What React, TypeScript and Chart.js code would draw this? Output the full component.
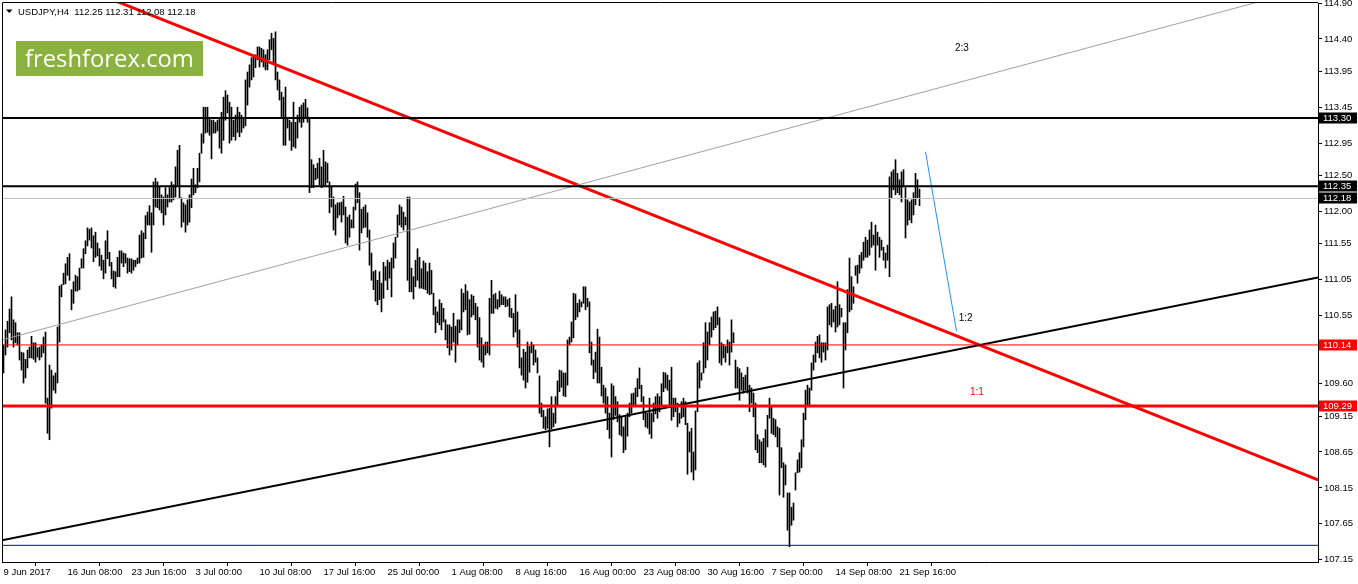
import React, { useEffect, useRef } from "react";
import { Chart, registerables } from "chart.js";

Chart.register(...registerables);

const SYMBOL_TITLE = "USDJPY,H4  112.25 112.31 112.08 112.18";
const WATERMARK = "freshforex.com";

// H4 bars, high / low per bar (index 0 = 9 Jun 2017 00:00)
const HIGHS: number[] = [
  110.14,110.35,110.47,110.64,110.81,110.49,110.45,110.31,110.31,110.04,
  110.03,109.94,110.07,110.11,110.26,110.17,110.17,110.10,110.11,110.14,
  110.25,110.32,109.40,109.86,109.79,109.71,109.75,110.39,110.96,110.98,
  111.14,111.27,111.36,111.41,110.91,111.02,111.11,111.09,111.21,111.34,
  111.48,111.59,111.77,111.75,111.77,111.66,111.71,111.56,111.48,111.39,
  111.32,111.59,111.73,111.43,111.29,111.17,111.16,111.36,111.45,111.45,
  111.42,111.41,111.35,111.34,111.34,111.32,111.32,111.35,111.67,111.73,
  111.70,111.94,111.99,112.08,
  111.98,112.41,112.46,112.41,112.34,112.23,112.20,112.33,112.23,112.33,
  112.41,112.37,112.62,112.85,112.92,112.19,112.12,112.09,112.16,112.23,
  112.45,112.60,112.37,112.60,112.81,113.08,113.45,113.45,113.45,113.30,
  113.27,113.27,113.24,113.27,113.30,113.38,113.59,113.68,113.62,113.52,
  113.45,113.27,113.34,113.45,113.38,113.34,113.30,113.83,113.94,114.04,
  114.14,114.15,114.18,114.29,114.29,114.27,114.25,114.18,114.25,114.39,
  114.48,114.41,114.50,113.94,113.83,113.66,113.59,113.73,113.31,113.27,
  113.24,113.52,113.24,113.34,113.45,
  113.48,113.51,113.56,113.44,113.31,112.72,112.65,112.60,112.67,112.74,
  112.62,112.85,112.69,112.67,112.41,112.34,112.20,112.09,112.12,112.12,
  112.13,112.21,112.06,111.92,111.95,111.88,112.06,112.38,112.41,112.26,
  112.03,112.06,112.09,111.98,111.74,111.42,111.16,111.18,111.04,111.16,
  111.00,111.29,111.23,111.32,111.29,111.35,111.56,111.64,111.95,112.09,
  112.06,111.99,111.92,112.20,112.20,111.21,111.09,111.32,111.48,111.36,
  111.20,111.31,111.28,111.16,111.28,111.18,110.86,110.67,110.60,110.77,
  110.72,110.65,110.49,110.42,110.42,
  110.39,110.58,110.40,110.49,110.49,110.92,110.86,110.98,110.89,110.77,
  110.84,110.82,110.72,110.67,110.52,110.24,110.14,110.18,110.18,110.79,
  111.04,110.84,110.86,110.77,110.89,110.84,110.81,110.81,110.77,110.79,
  110.65,110.58,110.84,110.60,110.35,109.96,110.08,110.04,110.18,110.12,
  110.18,110.14,110.07,109.96,109.71,109.33,109.23,109.14,109.25,109.26,
  109.42,109.19,109.42,109.64,109.79,109.78,109.75,109.75,110.21,110.25,
  110.46,110.86,110.85,110.72,110.77,110.74,110.95,110.95,110.79,110.74,
  110.18,109.93,110.04,110.36,110.25,
  109.83,109.58,109.54,109.42,109.19,109.60,109.57,109.42,109.35,109.17,
  109.14,109.00,109.14,109.19,109.33,109.46,109.47,109.54,109.67,109.82,
  109.58,109.42,109.21,109.19,109.40,109.19,109.33,109.42,109.46,109.42,
  109.60,109.76,109.75,109.72,109.65,109.83,109.40,109.40,109.33,109.19,
  109.35,109.40,109.35,109.05,108.93,108.98,108.65,109.22,109.89,109.92,
  109.75,110.17,110.45,110.32,110.45,110.53,110.60,110.61,110.67,110.52,
  110.17,110.15,110.12,110.21,110.18,110.49,110.31,109.93,109.83,109.81,
  109.75,109.69,109.72,109.83,109.58,
  109.54,109.47,109.33,108.89,108.82,108.79,108.84,108.96,109.16,109.40,
  109.28,109.12,109.10,109.00,108.98,108.71,108.50,108.47,108.08,108.08,
  107.88,107.94,
  108.36,108.54,108.64,108.82,109.19,109.51,109.58,109.54,109.89,110.00,
  110.18,110.26,110.28,110.17,110.17,110.17,110.67,110.70,110.72,110.63,
  110.68,111.02,110.70,110.65,110.45,110.45,110.91,111.35,111.09,110.95,
  111.24,111.25,111.39,111.43,111.57,111.64,111.60,111.74,111.85,111.67,
  111.81,111.71,111.64,111.60,111.50,111.42,111.53,112.48,
  112.55,112.58,112.72,112.53,112.44,112.55,112.58,112.33,112.16,112.13,
  112.16,112.26,112.53,112.44,112.31,
];

const LOWS: number[] = [
  109.75,110.00,110.11,110.31,110.21,110.11,110.17,110.14,109.93,109.79,
  109.61,109.68,109.82,109.96,109.96,109.94,109.90,109.97,109.93,109.97,
  110.03,109.33,108.91,108.82,109.26,109.51,109.47,109.61,110.18,110.81,
  110.98,110.99,111.11,111.04,110.63,110.72,110.89,110.89,110.91,111.21,
  111.21,111.41,111.52,111.60,111.49,111.30,111.36,111.38,111.24,111.18,
  111.06,111.14,111.34,111.24,111.06,110.95,110.93,111.09,111.09,111.28,
  111.23,111.28,111.14,111.16,111.14,111.18,111.23,111.27,111.28,111.35,
  111.36,111.62,111.81,111.81,
  111.43,111.81,112.06,112.05,112.02,111.98,111.81,111.95,112.06,112.13,
  112.13,112.16,112.20,112.35,112.19,111.78,111.85,111.71,111.81,111.85,
  112.05,112.23,112.26,112.33,112.41,112.81,112.95,113.09,113.10,113.06,
  112.73,113.09,113.09,113.12,112.88,112.81,112.99,113.27,113.37,112.95,
  112.99,113.04,112.99,113.10,113.04,113.10,113.16,113.19,113.48,113.73,
  113.83,113.87,114.00,114.11,114.01,114.08,114.01,113.97,113.97,114.11,
  114.25,114.07,113.83,113.69,113.55,113.31,112.92,112.92,113.16,112.99,
  112.85,112.90,112.88,113.02,113.24,
  113.17,113.24,113.31,113.24,112.26,112.33,112.33,112.44,112.46,112.37,
  112.33,112.34,112.37,112.40,111.98,112.06,111.74,111.67,111.91,111.95,
  111.85,111.95,111.56,111.53,111.64,111.77,111.77,112.02,112.12,111.46,
  111.70,111.77,111.78,111.64,111.25,111.04,110.91,110.75,110.70,110.77,
  110.60,110.79,111.04,110.91,111.07,110.81,111.21,111.35,111.64,111.81,
  111.78,111.74,111.81,111.04,110.88,110.88,110.78,110.95,111.04,110.93,
  110.93,110.92,110.91,110.86,110.84,110.85,110.56,110.31,110.45,110.42,
  110.35,110.46,110.21,110.10,110.00,
  110.07,110.18,109.90,110.14,110.31,110.35,110.60,110.63,110.28,110.29,
  110.53,110.56,110.49,110.11,109.93,109.90,109.83,110.00,110.03,110.00,
  110.58,110.58,110.65,110.64,110.67,110.70,110.70,110.67,110.68,110.53,
  110.52,110.25,110.32,110.11,109.82,109.72,109.65,109.54,109.62,109.76,
  110.03,109.86,109.90,109.75,109.19,109.14,108.98,108.96,108.98,108.72,
  108.97,109.00,109.05,109.30,109.49,109.55,109.43,109.42,109.58,110.14,
  110.18,110.24,110.49,110.53,110.60,110.67,110.72,110.63,110.67,110.03,
  109.86,109.67,109.76,109.61,109.61,
  109.43,109.33,109.19,108.96,108.84,108.58,109.10,109.16,109.07,108.89,
  108.87,108.64,108.68,108.87,109.14,109.19,109.28,109.28,109.42,109.53,
  109.35,109.10,109.00,108.98,108.90,108.84,109.07,109.18,109.12,109.21,
  109.30,109.49,109.54,109.51,109.30,109.09,109.14,109.21,109.00,109.05,
  109.12,109.14,109.03,108.34,108.65,108.37,108.26,108.40,109.21,109.54,
  109.65,109.75,109.82,109.93,110.14,110.25,110.35,110.38,110.42,109.89,
  109.86,109.96,109.90,110.03,109.86,110.04,110.17,109.54,109.54,109.37,
  109.51,109.47,109.51,109.47,109.21,
  109.33,109.14,108.68,108.64,108.50,108.50,108.47,108.44,108.72,109.12,
  108.91,108.89,108.86,108.72,108.05,108.43,108.02,108.19,107.56,107.33,
  107.63,107.70,
  108.12,108.36,108.37,108.43,108.72,109.10,109.28,109.28,109.51,109.79,
  109.90,110.03,109.96,109.90,110.04,109.93,110.07,110.42,110.39,110.46,
  110.32,110.39,110.42,110.53,109.54,110.07,110.31,110.60,110.63,110.72,
  111.11,111.00,111.14,111.21,111.32,111.36,111.36,111.39,111.50,111.53,
  111.18,111.53,111.36,111.46,111.32,111.21,111.32,111.09,
  112.19,112.30,112.23,112.26,112.23,112.13,112.34,111.63,111.81,111.88,
  111.84,111.95,112.09,112.19,112.08,
];

const X_TICK_INDEX = [0, 32, 64, 96, 128, 160, 192, 224, 256, 288, 320, 352, 384, 416, 448];
const X_TICK_LABELS = [
  "9 Jun 2017", "16 Jun 08:00", "23 Jun 16:00", "3 Jul 00:00", "10 Jul 08:00",
  "17 Jul 16:00", "25 Jul 00:00", "1 Aug 08:00", "8 Aug 16:00", "16 Aug 00:00",
  "23 Aug 08:00", "30 Aug 16:00", "7 Sep 00:00", "14 Sep 08:00", "21 Sep 16:00",
];
const Y_TICKS = [
  114.90, 114.40, 113.95, 113.45, 112.95, 112.50, 112.00, 111.55, 111.05,
  110.55, 110.10, 109.60, 109.15, 108.65, 108.15, 107.65, 107.15,
];

// horizontal levels
const LEVEL_PRICES = [113.30, 112.35, 112.18, 110.14, 109.29, 107.35];
const LEVEL_TAGGED = [true, true, true, true, true, false];

// trend lines (bar index, price)
const RED_TREND_X = [-0.75, 657.25];
const RED_TREND_Y = [115.56, 108.26];
const BLACK_TREND_X = [-0.75, 657.25];
const BLACK_TREND_Y = [107.42, 111.08];
const GRAY_TREND_X = [-0.75, 657.25];
const GRAY_TREND_Y = [110.21, 115.14];
const BLUE_PROJ_X = [461, 476.5];
const BLUE_PROJ_Y = [112.83, 110.33];

const RATIO_TEXT = ["2:3", "1:2", "1:1"];
const RATIO_X = [475.75, 477.6, 483.25];
const RATIO_Y = [114.23, 110.48, 109.44];

const X_MIN = -0.75;
const X_MAX = 657.25;
const Y_MIN = 107.118;
const Y_MAX = 114.901;

const FONT = "Liberation Sans";

const LEVEL_COLORS = ["#000000", "#000000", "#c0c0c0", "#ff0000", "#ff0000", "#0000cd"];
const LEVEL_WIDTHS = [2, 2, 1, 1, 3, 1];
const TAG_COLORS = ["#000000", "#000000", "#000000", "#ff0000", "#ff0000", ""];
const RATIO_COLORS = ["#000000", "#000000", "#ff0000"];

function seg(xs: number[], ys: number[]) {
  return xs.map((x, i) => ({ x, y: ys[i] }));
}

export default function App() {
  const ref = useRef<HTMLCanvasElement | null>(null);

  useEffect(() => {
    const canvas = ref.current;
    if (!canvas) return;

    const lineDs = (data: any[], color: string, width: number) => ({
      type: "line" as const,
      data,
      borderColor: color,
      borderWidth: width,
      pointRadius: 0,
      fill: false,
      tension: 0,
      order: 0,
    });

    const datasets: any[] = [
      {
        type: "bar",
        data: HIGHS.map((h, i) => ({ x: i, y: [LOWS[i], h] })),
        backgroundColor: "#000000",
        borderWidth: 0,
        barThickness: 1,
        grouped: false,
        order: 10,
      },
      ...LEVEL_PRICES.map((p, i) =>
        lineDs(seg([X_MIN, X_MAX], [p, p]), LEVEL_COLORS[i], LEVEL_WIDTHS[i])
      ),
      lineDs(seg(GRAY_TREND_X, GRAY_TREND_Y), "#a0a0a0", 1),
      lineDs(seg(BLACK_TREND_X, BLACK_TREND_Y), "#000000", 2),
      lineDs(seg(RED_TREND_X, RED_TREND_Y), "#ff0000", 3),
      lineDs(seg(BLUE_PROJ_X, BLUE_PROJ_Y), "#1e90ff", 1),
    ];

    const overlay = {
      id: "mt4Overlay",
      afterDraw(chart: any) {
        const ctx = chart.ctx as CanvasRenderingContext2D;
        const { left, top } = chart.chartArea;
        const xs = chart.scales.x;
        const ys = chart.scales.y;
        ctx.save();
        // frame top/left
        ctx.strokeStyle = "#000";
        ctx.lineWidth = 1;
        ctx.beginPath();
        ctx.moveTo(left + 0.5, top - 0.5);
        ctx.lineTo(chart.chartArea.right, top - 0.5);
        ctx.moveTo(left + 0.5, top - 0.5);
        ctx.lineTo(left + 0.5, chart.chartArea.bottom);
        ctx.stroke();

        // title
        ctx.fillStyle = "#000";
        ctx.beginPath();
        ctx.moveTo(6, 9.5);
        ctx.lineTo(12.5, 9.5);
        ctx.lineTo(9.25, 13);
        ctx.closePath();
        ctx.fill();
        ctx.font = `9.5px "${FONT}"`;
        ctx.textBaseline = "alphabetic";
        ctx.textAlign = "left";
        ctx.fillText(SYMBOL_TITLE, 18, 14.5);

        // watermark
        ctx.fillStyle = "#8bb240";
        ctx.fillRect(16, 41, 187, 35);
        let size = 24;
        ctx.font = `${size}px "Open Sans"`;
        const w = ctx.measureText(WATERMARK).width;
        size = (size * 169) / w;
        ctx.font = `${size}px "Open Sans"`;
        ctx.fillStyle = "#ffffff";
        ctx.fillText(WATERMARK, 25, 66.5);

        // ratio labels
        ctx.font = `10px "${FONT}"`;
        RATIO_TEXT.forEach((t, i) => {
          ctx.fillStyle = RATIO_COLORS[i];
          ctx.fillText(t, xs.getPixelForValue(RATIO_X[i]), ys.getPixelForValue(RATIO_Y[i]));
        });

        // price tags on axis
        ctx.font = `9.5px "${FONT}"`;
        ctx.textBaseline = "middle";
        LEVEL_PRICES.forEach((p, i) => {
          if (!LEVEL_TAGGED[i]) return;
          const y = ys.getPixelForValue(p);
          ctx.fillStyle = TAG_COLORS[i];
          ctx.fillRect(1319, Math.round(y) - 5.5, 38, 11);
          ctx.fillStyle = "#ffffff";
          ctx.fillText(p.toFixed(2), 1323, Math.round(y) + 0.5);
        });
        ctx.restore();
      },
    };

    const chart = new Chart(canvas, {
      type: "bar",
      data: { datasets },
      plugins: [overlay],
      options: {
        responsive: false,
        devicePixelRatio: 1,
        animation: false,
        events: [],
        layout: { padding: { left: 2, top: 3, right: 0, bottom: 0 } },
        plugins: { legend: { display: false }, tooltip: { enabled: false } },
        scales: {
          x: {
            type: "linear",
            min: X_MIN,
            max: X_MAX,
            offset: false,
            afterBuildTicks: (s: any) => {
              s.ticks = X_TICK_INDEX.map((v) => ({ value: v }));
            },
            afterFit: (s: any) => {
              s.height = 22;
              s.paddingLeft = 0;
              s.paddingRight = 0;
            },
            ticks: {
              autoSkip: false,
              maxRotation: 0,
              minRotation: 0,
              align: "start",
              padding: 1,
              color: "#000",
              font: { family: FONT, size: 9.5 },
              callback: (_v: any, i: number) => X_TICK_LABELS[i] ?? "",
            },
            grid: { drawOnChartArea: false, drawTicks: true, tickLength: 4, tickColor: "#000" },
            border: { display: true, color: "#000" },
          },
          y: {
            type: "linear",
            position: "right",
            min: Y_MIN,
            max: Y_MAX,
            afterBuildTicks: (s: any) => {
              s.ticks = Y_TICKS.map((v) => ({ value: v }));
            },
            afterFit: (s: any) => {
              s.width = 40;
              s.paddingTop = 0;
              s.paddingBottom = 0;
            },
            ticks: {
              autoSkip: false,
              padding: 2,
              color: "#000",
              font: { family: FONT, size: 9.5 },
              callback: (v: any) => Number(v).toFixed(2),
            },
            grid: { drawOnChartArea: false, drawTicks: true, tickLength: 4, tickColor: "#000" },
            border: { display: true, color: "#000" },
          },
        },
      } as any,
    });

    return () => chart.destroy();
  }, []);

  return (
    <div style={{ position: "fixed", left: 0, top: 0, width: 1358, height: 584, background: "#fff" }}>
      <canvas ref={ref} width={1358} height={584} />
    </div>
  );
}
